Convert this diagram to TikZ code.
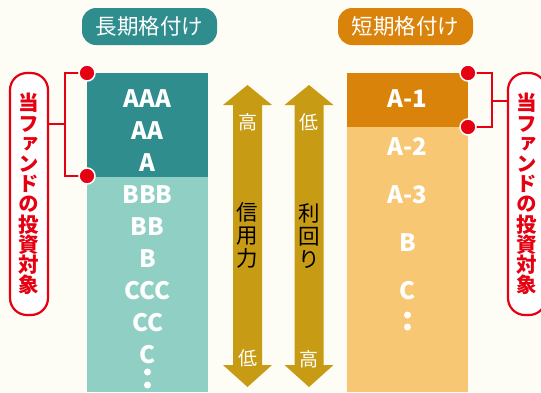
\documentclass[tikz,border=0pt]{standalone}
\usepackage{fontspec}
\setmainfont{Noto Sans CJK JP}
\newfontfamily\vertjp{Noto Sans CJK JP}[RawFeature=+vert]
\usetikzlibrary{calc}

\definecolor{bgcream}{HTML}{FDFCF5}
\definecolor{tealdark}{HTML}{2F8D8E}
\definecolor{teallight}{HTML}{8FCFC4}
\definecolor{orangedark}{HTML}{D9830A}
\definecolor{orangelight}{HTML}{F8C774}
\definecolor{goldbar}{HTML}{C89B14}
\definecolor{fundred}{HTML}{E50012}

\tikzset{
  titlepill/.style={rounded corners=14pt,minimum width=135pt,minimum height=37pt,
    text=white,font=\fontsize{21.5}{21.5}\selectfont,inner sep=0pt},
  rating/.style={text=white,font=\bfseries\fontsize{24}{24}\selectfont,inner sep=0pt},
  ratingdot/.style={circle,fill=white,inner sep=0pt,minimum size=7pt},
  fundpill/.style={draw=fundred,line width=2.2pt,fill=white,rounded corners=17pt,
    minimum width=38pt,minimum height=242pt,text=fundred,align=center,inner sep=0pt,
    font=\vertjp\bfseries\fontsize{20.5}{20.2}\selectfont},
  reddot/.style={circle,fill=fundred,draw=white,line width=1.5pt,inner sep=0pt,minimum size=16pt},
  redline/.style={draw=fundred,line width=2pt},
  goldarrow/.style={fill=goldbar},
  arrowend/.style={text=white,font=\fontsize{19}{19}\selectfont,inner sep=0pt},
  arrowmid/.style={text=black,align=center,font=\fontsize{21.5}{23}\selectfont,inner sep=0pt}
}

\begin{document}
\begin{tikzpicture}[x=1pt,y=-1pt]
  \fill[bgcream] (0,0) rectangle (541,392);
  \useasboundingbox (0,0) rectangle (541,392);

  % titles
  \node[titlepill,fill=tealdark] (ltitle) at (149.5,26.5) {長期格付け};
  \node[titlepill,fill=orangedark] (rtitle) at (405.5,26.5) {短期格付け};

  % long-term column
  \fill[tealdark] (87,73) rectangle (208,177);
  \fill[teallight] (87,177) rectangle (208,392);
  \foreach \lab [count=\i] in {AAA,AA,A,BBB,BB,B,CCC,CC,C}
    \node[rating] (lr\i) at (147.5,{99+32*(\i-1)}) {\lab};
  \node[ratingdot] (ldot1) at (147.5,372) {};
  \node[ratingdot] (ldot2) at (147.5,385) {};

  % short-term column
  \fill[orangedark] (347,73) rectangle (468,127);
  \fill[orangelight] (347,127) rectangle (468,392);
  \foreach \lab [count=\i] in {A-1,A-2,A-3,B,C}
    \node[rating] (sr\i) at (407.5,{99+48*(\i-1)}) {\lab};
  \node[ratingdot] (sdot1) at (407.5,315) {};
  \node[ratingdot] (sdot2) at (407.5,327) {};

  % arrows
  \foreach \cx in {247.5,309}
    \fill[goldarrow] (\cx,85) -- ({\cx+24.5},105) -- ({\cx+14.5},105) -- ({\cx+14.5},365)
      -- ({\cx+24.5},365) -- (\cx,387) -- ({\cx-24.5},365) -- ({\cx-14.5},365)
      -- ({\cx-14.5},105) -- ({\cx-24.5},105) -- cycle;
  \node[arrowend] (chigh) at (247.5,122) {高};
  \node[arrowmid] (credit) at (247.5,235) {信\\用\\力};
  \node[arrowend] (clow) at (247.5,358) {低};
  \node[arrowend] (ylow) at (309,122) {低};
  \node[arrowmid] (yield) at (309,236) {利\\回\\り};
  \node[arrowend] (yhigh) at (309,359) {高};

  % fund targets
  \node[fundpill] (lpill) at (29,194) {当\\フ\\ァ\\ン\\ド\\の\\投\\資\\対\\象};
  \node[fundpill] (rpill) at (527,194) {当\\フ\\ァ\\ン\\ド\\の\\投\\資\\対\\象};

  \coordinate (ld1) at (87,73);
  \coordinate (ld2) at (87,176);
  \coordinate (lbr) at (65,124);
  \draw[redline] (ld1) -| (lbr) |- (ld2);
  \draw[redline] (lbr) -- (lpill.east |- lbr);
  \node[reddot] (ldot1r) at (ld1) {};
  \node[reddot] (ldot2r) at (ld2) {};

  \coordinate (rd1) at (468,73);
  \coordinate (rd2) at (468,127);
  \coordinate (rbr) at (492,101);
  \draw[redline] (rd1) -| (rbr) |- (rd2);
  \draw[redline] (rbr) -- (rpill.west |- rbr);
  \node[reddot] (rdot1r) at (rd1) {};
  \node[reddot] (rdot2r) at (rd2) {};
\end{tikzpicture}
\end{document}
